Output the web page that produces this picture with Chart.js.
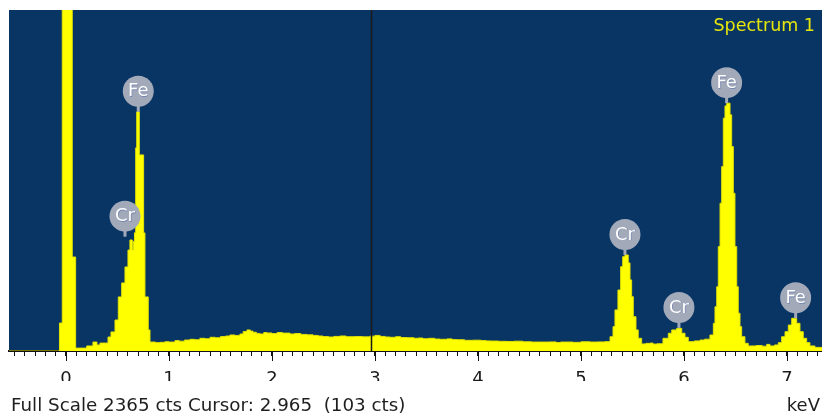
<!DOCTYPE html>
<html>
<head>
<meta charset="utf-8">
<script src="https://cdn.jsdelivr.net/npm/chart.js@4.4.1/dist/chart.umd.min.js"></script>
<style>
  html, body { margin: 0; padding: 0; background: #ffffff; }
  #wrap { width: 822px; height: 414px; }
</style>
</head>
<body>
<div id="wrap"><canvas id="spectrum" width="822" height="414"></canvas></div>
<script>
// EDS spectrum: channel start energy (keV) and counts held until the next channel
const energyKeV = [
  -0.553, -0.063, -0.036, 0.061, 0.094, 0.201, 0.262, 0.301, 0.330, 0.408,
  0.437, 0.476, 0.508, 0.541, 0.573, 0.602, 0.621, 0.644, 0.653, 0.665,
  0.677, 0.687, 0.712, 0.754, 0.767, 0.799, 0.816, 0.870, 0.913, 0.960,
  1.000, 1.058, 1.100, 1.150, 1.204, 1.250, 1.300, 1.350, 1.398, 1.450,
  1.500, 1.550, 1.592, 1.640, 1.689, 1.720, 1.757, 1.790, 1.816, 1.850,
  1.883, 1.920, 1.951, 2.000, 2.050, 2.100, 2.175, 2.220, 2.280, 2.340,
  2.400, 2.450, 2.495, 2.550, 2.600, 2.660, 2.720, 2.806, 2.880, 2.950,
  3.000, 3.050, 3.100, 3.146, 3.200, 3.250, 3.311, 3.380, 3.420, 3.466,
  3.520, 3.580, 3.631, 3.700, 3.750, 3.796, 3.870, 3.951, 4.030, 4.080,
  4.117, 4.200, 4.282, 4.350, 4.437, 4.520, 4.602, 4.700, 4.760, 4.800,
  4.922, 5.000, 5.087, 5.160, 5.233, 5.282, 5.311, 5.330, 5.359, 5.385,
  5.405, 5.427, 5.459, 5.476, 5.492, 5.508, 5.534, 5.556, 5.589, 5.630,
  5.670, 5.700, 5.738, 5.796, 5.848, 5.881, 5.929, 5.978, 6.010, 6.042,
  6.100, 6.155, 6.200, 6.252, 6.285, 6.301, 6.318, 6.333, 6.350, 6.366,
  6.382, 6.398, 6.415, 6.447, 6.463, 6.479, 6.495, 6.512, 6.527, 6.544,
  6.560, 6.592, 6.624, 6.700, 6.760, 6.803, 6.835, 6.880, 6.916, 6.948,
  6.981, 7.013, 7.046, 7.094, 7.126, 7.158, 7.191, 7.223, 7.272, 7.340
];
const counts = [
  0, 194, 3000, 652, 20, 35, 62, 42, 55, 97,
  132, 215, 375, 472, 583, 700, 770, 700, 760, 820,
  1409, 1659, 1360, 819, 375, 146, 62, 58, 60, 64,
  62, 72, 68, 76, 81, 78, 88, 85, 95, 92,
  100, 104, 111, 108, 118, 135, 146, 138, 130, 122,
  118, 128, 125, 121, 128, 124, 118, 121, 115, 112,
  108, 104, 100, 97, 101, 104, 99, 100, 98, 103,
  108, 101, 97, 95, 99, 93, 92, 88, 90, 85,
  88, 83, 81, 84, 79, 78, 74, 75, 72, 70,
  69, 67, 66, 68, 64, 62, 62, 63, 59, 62,
  60, 64, 62, 63, 65, 99, 169, 285, 423, 585,
  654, 666, 611, 493, 377, 238, 146, 88, 49, 53,
  55, 48, 50, 88, 123, 146, 157, 123, 95, 65,
  70, 76, 82, 111, 192, 307, 446, 724, 1025, 1279,
  1615, 1700, 1719, 1638, 1418, 1094, 724, 446, 262, 169,
  99, 53, 35, 38, 33, 46, 35, 42, 58, 99,
  134, 180, 227, 192, 134, 88, 58, 35, 25, 25
];

// element markers: symbol, line energy, count at the tip of the stem
const peakElements = ["Fe", "Cr", "Cr", "Cr", "Fe", "Fe"];
const peakEnergies = [0.702, 0.573, 5.427, 5.951, 6.414, 7.084];
const peakCounts   = [1659, 793, 666, 160, 1719, 227];

const fullScale = 2365;
const cursorKeV = 2.965;
const cursorCounts = 103;
const spectrumName = "Spectrum 1";
const axisUnit = "keV";

const xMin = -0.553;
const xMax = 7.34;

const points = energyKeV.map((e, i) => ({ x: e, y: counts[i] }));

const isMajor = v => Math.abs(v - Math.round(v)) < 1e-6;

const decor = {
  id: "spectrumDecor",
  beforeDraw(chart) {
    const { ctx, chartArea: a } = chart;
    ctx.save();
    ctx.fillStyle = "rgb(9,53,100)";
    ctx.fillRect(a.left, a.top, a.right - a.left, a.bottom - a.top);
    ctx.restore();
  },
  afterDatasetsDraw(chart) {
    const { ctx, chartArea: a } = chart;
    const xs = chart.scales.x, ys = chart.scales.y;
    ctx.save();
    // cursor
    const cx = Math.round(xs.getPixelForValue(cursorKeV)) + 0.5;
    ctx.strokeStyle = "#1b1b1b";
    ctx.lineWidth = 1.5;
    ctx.beginPath();
    ctx.moveTo(cx, a.top);
    ctx.lineTo(cx, a.bottom);
    ctx.stroke();

    // element bubbles
    const r = 15.5;
    peakElements.forEach((el, i) => {
      const px = xs.getPixelForValue(peakEnergies[i]);
      const py = ys.getPixelForValue(peakCounts[i]);
      const cy = py - 20.5;
      ctx.fillStyle = "rgb(162,170,186)";
      ctx.fillRect(px - 1.5, cy, 3, py - cy);
      ctx.beginPath();
      ctx.arc(px, cy, r, 0, Math.PI * 2);
      ctx.fill();
      ctx.font = "18px 'DejaVu Sans'";
      ctx.textAlign = "center";
      ctx.textBaseline = "middle";
      ctx.fillStyle = "rgba(90,110,170,0.6)";
      ctx.fillText(el, px + 0.7, cy + 1.2);
      ctx.fillStyle = "#ffffff";
      ctx.fillText(el, px, cy + 0.5);
    });
    ctx.restore();
  },
  afterDraw(chart) {
    const { ctx, chartArea: a } = chart;
    const xs = chart.scales.x;
    ctx.save();
    // longer marks on whole keV
    ctx.strokeStyle = "#111111";
    ctx.lineWidth = 1;
    xs.ticks.forEach(t => {
      if (!isMajor(t.value)) return;
      const x = Math.round(xs.getPixelForValue(t.value)) + 0.5;
      ctx.beginPath();
      ctx.moveTo(x, a.bottom);
      ctx.lineTo(x, a.bottom + 10);
      ctx.stroke();
    });

    ctx.font = "17.5px 'DejaVu Sans'";
    ctx.textAlign = "right";
    ctx.textBaseline = "alphabetic";
    ctx.fillStyle = "#e6e60a";
    ctx.fillText(spectrumName, 815, 31);

    ctx.font = "18.3px 'DejaVu Sans'";
    ctx.fillStyle = "#1e1e1e";
    ctx.textAlign = "left";
    ctx.fillText(`Full Scale ${fullScale} cts Cursor: ${cursorKeV.toFixed(3)}  (${cursorCounts} cts)`, 11, 411);
    ctx.font = "18px 'DejaVu Sans'";
    ctx.textAlign = "right";
    ctx.fillText(axisUnit, 820, 411);
    ctx.restore();
  }
};

new Chart(document.getElementById("spectrum"), {
  type: "line",
  data: {
    datasets: [{
      data: points,
      stepped: true,
      fill: "origin",
      backgroundColor: "#ffff00",
      borderColor: "#e2e200",
      borderWidth: 1,
      pointRadius: 0,
      tension: 0
    }]
  },
  options: {
    responsive: false,
    animation: false,
    events: [],
    layout: { padding: { left: 9, top: 10, right: 0, bottom: 33 } },
    plugins: {
      legend: { display: false },
      tooltip: { enabled: false }
    },
    scales: {
      x: {
        type: "linear",
        min: xMin,
        max: xMax,
        afterFit(scale) {
          scale.height = 30;
          scale.paddingLeft = 0;
          scale.paddingRight = 0;
        },
        border: { display: true, color: "#111111", width: 2 },
        grid: {
          display: true,
          drawOnChartArea: false,
          drawTicks: true,
          tickLength: 5,
          tickColor: "#111111",
          tickWidth: 1
        },
        ticks: {
          stepSize: 0.1,
          autoSkip: false,
          includeBounds: false,
          maxRotation: 0,
          padding: 13,
          color: "#1a1a1a",
          font: { family: "'DejaVu Sans'", size: 18 },
          callback: v => isMajor(v) ? String(Math.round(v)) : ""
        }
      },
      y: {
        display: false,
        min: 0,
        max: fullScale
      }
    }
  },
  plugins: [decor]
});
</script>
</body>
</html>
